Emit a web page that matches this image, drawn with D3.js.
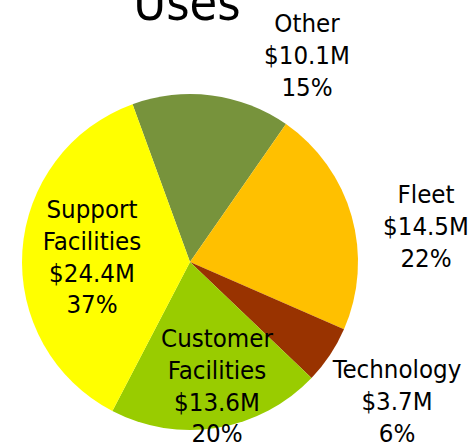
<!DOCTYPE html>
<html><head><meta charset="utf-8">
<script src="https://cdn.jsdelivr.net/npm/d3@7"></script>
<style>body{margin:0;background:#fff;overflow:hidden}</style>
</head><body><svg id="c" width="473" height="445"></svg>
<script>
const title = "Uses";
const categories = ["Other", "Fleet", "Technology", "Customer Facilities", "Support Facilities"];
const values = [10.1, 14.5, 3.7, 13.6, 24.4];
const valueLabels = ["$10.1M", "$14.5M", "$3.7M", "$13.6M", "$24.4M"];
const percentLabels = ["15%", "22%", "6%", "20%", "37%"];
const colors = ["#77933C", "#FFC000", "#993300", "#99CC00", "#FFFF00"];

// layout (label anchors: centre x, first baseline y)
const labelPos = {
  "Other": [307, 32],
  "Fleet": [426, 203],
  "Technology": [397, 378],
  "Customer Facilities": [217, 347],
  "Support Facilities": [92, 218]
};
const cx = 190, cy = 262, R = 168;
const lineH = 31.8;
const font = "'DejaVu Sans Condensed', 'DejaVu Sans', sans-serif";

const svg = d3.select("#c");
const deg = Math.PI / 180;
const pie = d3.pie().sort(null).value(d => d)
  .startAngle(-20 * deg).endAngle(340 * deg);
const arc = d3.arc().innerRadius(0).outerRadius(R);
const color = d3.scaleOrdinal().domain(categories).range(colors);

const g = svg.append("g").attr("transform", `translate(${cx},${cy})`);
g.selectAll("path").data(pie(values)).join("path")
  .attr("d", arc)
  .attr("fill", (d, i) => color(categories[i]));

svg.append("text").attr("x", 187).attr("y", 20)
  .attr("text-anchor", "middle")
  .attr("font-family", font).attr("font-size", 50).attr("fill", "#000")
  .text(title);

categories.forEach((c, i) => {
  const lines = (c.includes(" ") ? c.split(" ") : [c]).concat([valueLabels[i], percentLabels[i]]);
  const [x, y] = labelPos[c];
  const t = svg.append("text")
    .attr("text-anchor", "middle")
    .attr("font-family", font).attr("font-size", 25.6).attr("fill", "#000");
  lines.forEach((l, j) => {
    t.append("tspan").attr("x", x).attr("y", y + j * lineH).text(l);
  });
});
</script>
</body></html>
